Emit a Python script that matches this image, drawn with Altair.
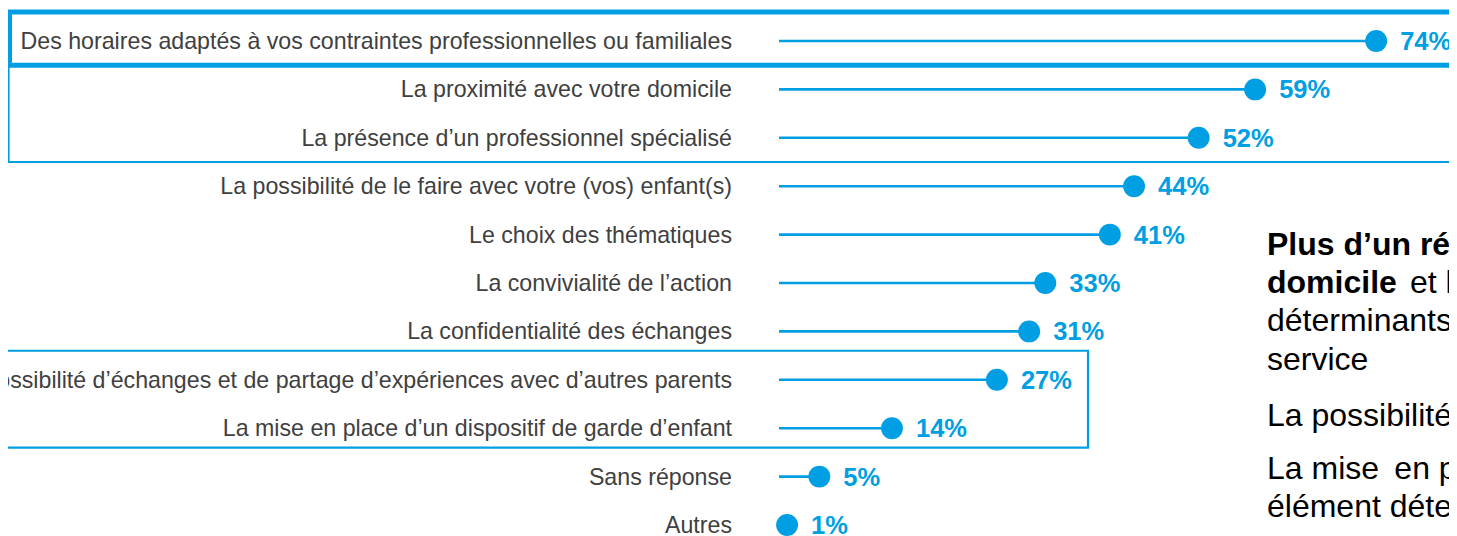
import altair as alt
import pandas as pd

# ---------------- data ----------------
labels = [
    "Des horaires adaptés à vos contraintes professionnelles ou familiales",
    "La proximité avec votre domicile",
    "La présence d’un professionnel spécialisé",
    "La possibilité de le faire avec votre (vos) enfant(s)",
    "Le choix des thématiques",
    "La convivialité de l’action",
    "La confidentialité des échanges",
    "La possibilité d’échanges et de partage d’expériences avec d’autres parents",
    "La mise en place d’un dispositif de garde d’enfant",
    "Sans réponse",
    "Autres",
]
values = [74, 59, 52, 44, 41, 33, 31, 27, 14, 5, 1]
value_labels = ["74%", "59%", "52%", "44%", "41%", "33%", "31%", "27%", "14%", "5%", "1%"]

# highlighted groups of rows (first row, last row)
box_first = [0, 0, 7]
box_last = [0, 2, 8]

df = pd.DataFrame({
    "row": list(range(len(labels))),
    "label": labels,
    "value": values,
    "pct": value_labels,
    "zero": [0] * len(labels),
})

BLUE = "#009FE3"
GREY = "#404040"
FONT = "Liberation Sans"

yscale = alt.Scale(domain=[0, 10], range=[33, 517], nice=False, zero=False)
xscale = alt.Scale(domain=[0, 100], range=[771, 1578], nice=False, zero=False)

base = alt.Chart(df)

rules = base.mark_rule(color=BLUE, strokeWidth=2.6).encode(
    x=alt.X("zero:Q", scale=xscale, axis=None),
    x2="value:Q",
    y=alt.Y("row:Q", scale=yscale, axis=None),
)
dots = base.mark_circle(color=BLUE, opacity=1, size=480).encode(
    x=alt.X("value:Q", scale=xscale, axis=None),
    y=alt.Y("row:Q", scale=yscale, axis=None),
)
pcts = base.mark_text(
    color=BLUE, font=FONT, fontSize=25.5, fontWeight="bold",
    align="left", baseline="middle", dx=24, dy=1,
).encode(
    x=alt.X("value:Q", scale=xscale, axis=None),
    y=alt.Y("row:Q", scale=yscale, axis=None),
    text="pct:N",
)
names = base.mark_text(
    color=GREY, font=FONT, fontSize=23.2,
    align="right", baseline="middle", dy=1,
).encode(
    x=alt.value(724),
    y=alt.Y("row:Q", scale=yscale, axis=None),
    text="label:N",
)

def box(i, x0, x1, width):
    d = pd.DataFrame({"first": [box_first[i]], "last": [box_last[i]]})
    return alt.Chart(d).transform_calculate(
        top="datum.first - 0.6",
        bottom="datum.last + (datum.last == 8 ? 0.4 : 0.5)",
    ).mark_rect(filled=False, stroke=BLUE, strokeWidth=width).encode(
        x=alt.value(x0),
        x2=alt.value(x1),
        y=alt.Y("top:Q", scale=yscale, axis=None),
        y2="bottom:Q",
    )

boxes = [box(1, 0.5, 1475, 2.2), box(2, -20, 1080, 2.2), box(0, 1.5, 1475, 5)]

one = pd.DataFrame({"k": [0]})

def note(text, x, y, bold=False):
    return alt.Chart(one).mark_text(
        text=text, font=FONT, fontSize=32, color="#000000",
        fontWeight="bold" if bold else "normal",
        align="left", baseline="middle",
    ).encode(x=alt.value(x), y=alt.value(y))

notes = [
    note("Plus\u00a0d’un\u00a0répondant", 1259, 237, True),
    note("domicile", 1259, 275, True),
    note("et la présence", 1402, 275),
    note("déterminants dans", 1259, 313),
    note("service", 1259, 352),
    note("La possibilité de le faire", 1259, 408),
    note("La mise\u00a0\u2009en\u00a0place", 1259, 461),
    note("élément déterminant", 1259, 499),
]

chart = alt.layer(*boxes, rules, dots, pcts, names, *notes).properties(
    width=1441, height=528,
    autosize=alt.AutoSizeParams(type="none"),
    padding=0,
).configure_view(stroke=None)

chart.save("out.html", embed_options={"renderer": "svg", "actions": False})
